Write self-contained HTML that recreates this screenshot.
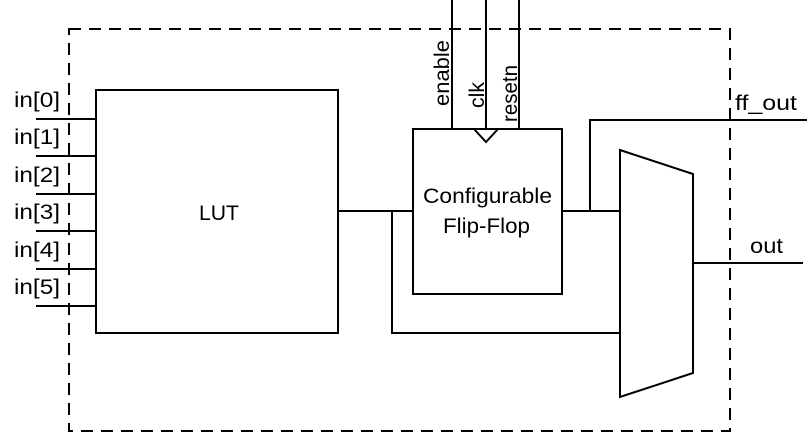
<!DOCTYPE html>
<html><head><style>body{margin:0;background:#fff}svg{display:block}</style></head>
<body>
<svg width="811" height="433" xmlns="http://www.w3.org/2000/svg" font-family="Liberation Sans, sans-serif">
<rect x="69" y="29" width="661" height="402" fill="none" stroke="#000" stroke-width="2" stroke-dasharray="12,8"/>
<g stroke="#000" stroke-width="2" fill="none">
<rect x="96" y="90" width="242" height="243" fill="#fff"/>
<line x1="36" y1="119" x2="96" y2="119"/>
<line x1="36" y1="156" x2="96" y2="156"/>
<line x1="36" y1="194" x2="96" y2="194"/>
<line x1="36" y1="231" x2="96" y2="231"/>
<line x1="36" y1="269" x2="96" y2="269"/>
<line x1="36" y1="306" x2="96" y2="306"/>
<line x1="452" y1="0" x2="452" y2="129"/>
<line x1="486" y1="0" x2="486" y2="129"/>
<line x1="519" y1="0" x2="519" y2="129"/>
<rect x="413" y="129" width="149" height="165" fill="#fff"/>
<polyline points="474,129 486,142 498,129"/>
<line x1="338" y1="211" x2="413" y2="211"/>
<polyline points="392,211 392,333 620,333"/>
<line x1="562" y1="211" x2="620" y2="211"/>
<polyline points="590,211 590,120 807,120"/>
<polygon points="620,150 693,174 693,373 620,397" fill="#fff"/>
<line x1="693" y1="263" x2="803" y2="263"/>
</g>
<g font-size="21" fill="#000">
<text x="199" y="220" textLength="40" lengthAdjust="spacingAndGlyphs">LUT</text>
<text x="423" y="203" textLength="129" lengthAdjust="spacingAndGlyphs">Configurable</text>
<text x="443" y="233" textLength="87" lengthAdjust="spacingAndGlyphs">Flip-Flop</text>
<text x="14" y="107" textLength="46" lengthAdjust="spacingAndGlyphs">in[0]</text>
<text x="14" y="144" textLength="46" lengthAdjust="spacingAndGlyphs">in[1]</text>
<text x="14" y="182" textLength="46" lengthAdjust="spacingAndGlyphs">in[2]</text>
<text x="14" y="219" textLength="46" lengthAdjust="spacingAndGlyphs">in[3]</text>
<text x="14" y="257" textLength="46" lengthAdjust="spacingAndGlyphs">in[4]</text>
<text x="14" y="294" textLength="46" lengthAdjust="spacingAndGlyphs">in[5]</text>
<text x="735" y="110" textLength="62" lengthAdjust="spacingAndGlyphs">ff_out</text>
<text x="750" y="253" textLength="33" lengthAdjust="spacingAndGlyphs">out</text>
<text transform="translate(449,106) rotate(-90)" textLength="66" lengthAdjust="spacingAndGlyphs">enable</text>
<text transform="translate(484,108) rotate(-90)" textLength="26" lengthAdjust="spacingAndGlyphs">clk</text>
<text transform="translate(517,122) rotate(-90)" textLength="57" lengthAdjust="spacingAndGlyphs">resetn</text>
</g>
</svg>
</body></html>
